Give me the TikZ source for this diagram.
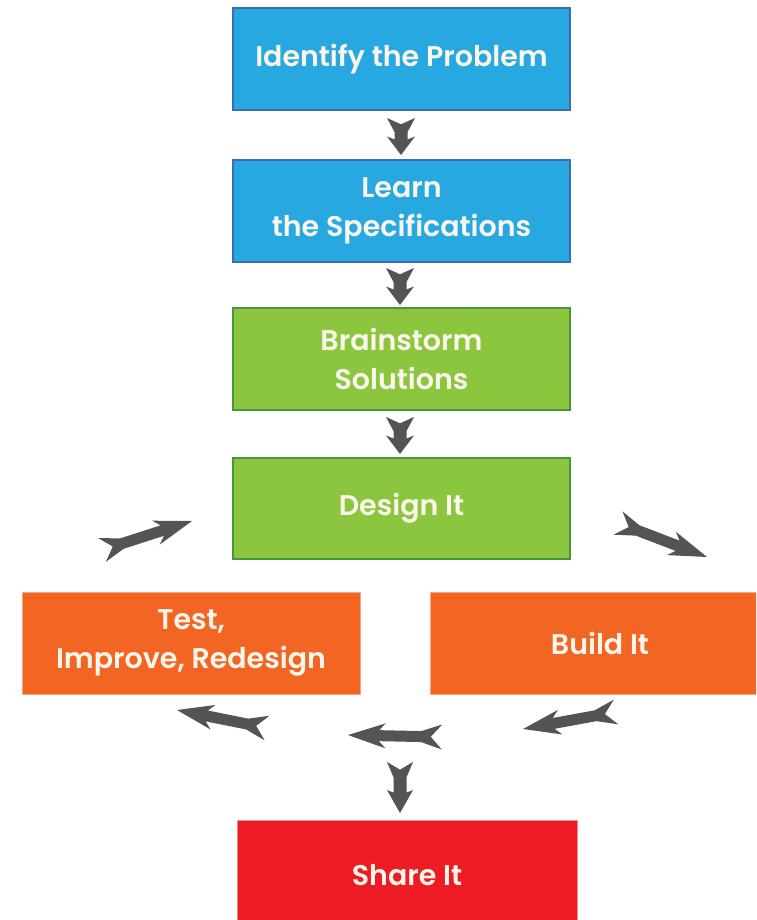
\documentclass[tikz,border=0pt]{standalone}
\usepackage{fontspec}
\setmainfont{Poppins}[BoldFont={Poppins SemiBold}]
\usetikzlibrary{calc}

\definecolor{bluefill}{HTML}{28A8E0}
\definecolor{blueedge}{HTML}{3B6DB4}
\definecolor{greenfill}{HTML}{8CC63F}
\definecolor{greenedge}{HTML}{47963A}
\definecolor{orangefill}{HTML}{F26522}
\definecolor{orangeedge}{HTML}{F5A58E}
\definecolor{redfill}{HTML}{ED1C24}
\definecolor{rededge}{HTML}{F08A8E}
\definecolor{arrowgray}{HTML}{545456}
\definecolor{labeltext}{HTML}{FAF6EC}

% Feathered arrow between two named points:
% #1 tail, #2 tip, #3 barb half width, #4 shaft half width,
% #5 head barb position, #6 shaft end, #7 shaft start, #8 tail notch (fractions of length)
\newcommand\feather[8]{%
  \fill[arrowgray] (#2)
    -- ($(#1)!#5!(#2)!#3!90:(#2)$)
    -- ($(#1)!#6!(#2)!#4!90:(#2)$)
    -- ($(#1)!#7!(#2)!#4!90:(#2)$)
    -- ($(#1)!#3!90:(#2)$)
    -- ($(#1)!#8!(#2)$)
    -- ($(#1)!#3!-90:(#2)$)
    -- ($(#1)!#7!(#2)!#4!-90:(#2)$)
    -- ($(#1)!#6!(#2)!#4!-90:(#2)$)
    -- ($(#1)!#5!(#2)!#3!-90:(#2)$)
    -- cycle;}
\newcommand\stepdown[2]{\feather{#1}{#2}{14pt}{6.5pt}{0.5}{0.58}{0.38}{0.17}}
\newcommand\looparrow[2]{\feather{#1}{#2}{12.5pt}{5.5pt}{0.6}{0.67}{0.22}{0.12}}

\begin{document}
\begin{tikzpicture}[x=1pt,y=-1pt,
  stagebox/.style={rectangle, draw, line width=1.6pt, inner sep=0pt,
    minimum width=337pt, minimum height=102pt, align=center,
    text=labeltext, font=\bfseries\fontsize{28.5}{39.5}\selectfont},
  bluebox/.style={stagebox, fill=bluefill, draw=blueedge},
  greenbox/.style={stagebox, fill=greenfill, draw=greenedge},
  orangebox/.style={stagebox, fill=orangefill, draw=orangeedge, line width=1pt},
  redbox/.style={stagebox, fill=redfill, draw=rededge, line width=1pt}]
\useasboundingbox (0,0) rectangle (756,920);
\clip (0,0) rectangle (756,920);
\fill[white] (0,0) rectangle (756,920);

% stages
\node[bluebox] (ident) at (401.5,59) {Identify the Problem};
\node[bluebox] (learn) at (401.5,211) {Learn\\the Specifications};
\node[greenbox] (brain) at (401.5,359) {Brainstorm\\Solutions};
\node[greenbox, minimum height=101pt] (design) at (401.5,508.5) {Design It};
\node[orangebox, minimum width=338pt] (test) at (191,643) {Test,\\Improve, Redesign};
\node[orangebox, minimum width=340pt] (build) at (600,643) {Build It};
\node[redbox, minimum width=340pt, minimum height=110pt] (share) at (407,875) {Share It};

% arrow end points
\coordinate (a1t) at (401,118);  \coordinate (a1h) at (401,155);
\coordinate (a2t) at (400,268);  \coordinate (a2h) at (400,305);
\coordinate (a3t) at (400,417);  \coordinate (a3h) at (400,454);
\coordinate (a4t) at (400,762);  \coordinate (a4h) at (400,813);
\coordinate (d1t) at (102,550);  \coordinate (d1h) at (192,521);
\coordinate (d2t) at (618,523);  \coordinate (d2h) at (707,557);
\coordinate (d3t) at (616,712);  \coordinate (d3h) at (523,729);
\coordinate (d4t) at (442,737);  \coordinate (d4h) at (348,735);
\coordinate (d5t) at (267,728);  \coordinate (d5h) at (177,710);

% main sequence
\stepdown{a1t}{a1h}
\stepdown{a2t}{a2h}
\stepdown{a3t}{a3h}
\feather{a4t}{a4h}{13pt}{6.5pt}{0.55}{0.6}{0.3}{0.15}

% design / build / test loop
\looparrow{d1t}{d1h}
\looparrow{d2t}{d2h}
\looparrow{d3t}{d3h}
\looparrow{d4t}{d4h}
\looparrow{d5t}{d5h}
\end{tikzpicture}
\end{document}
